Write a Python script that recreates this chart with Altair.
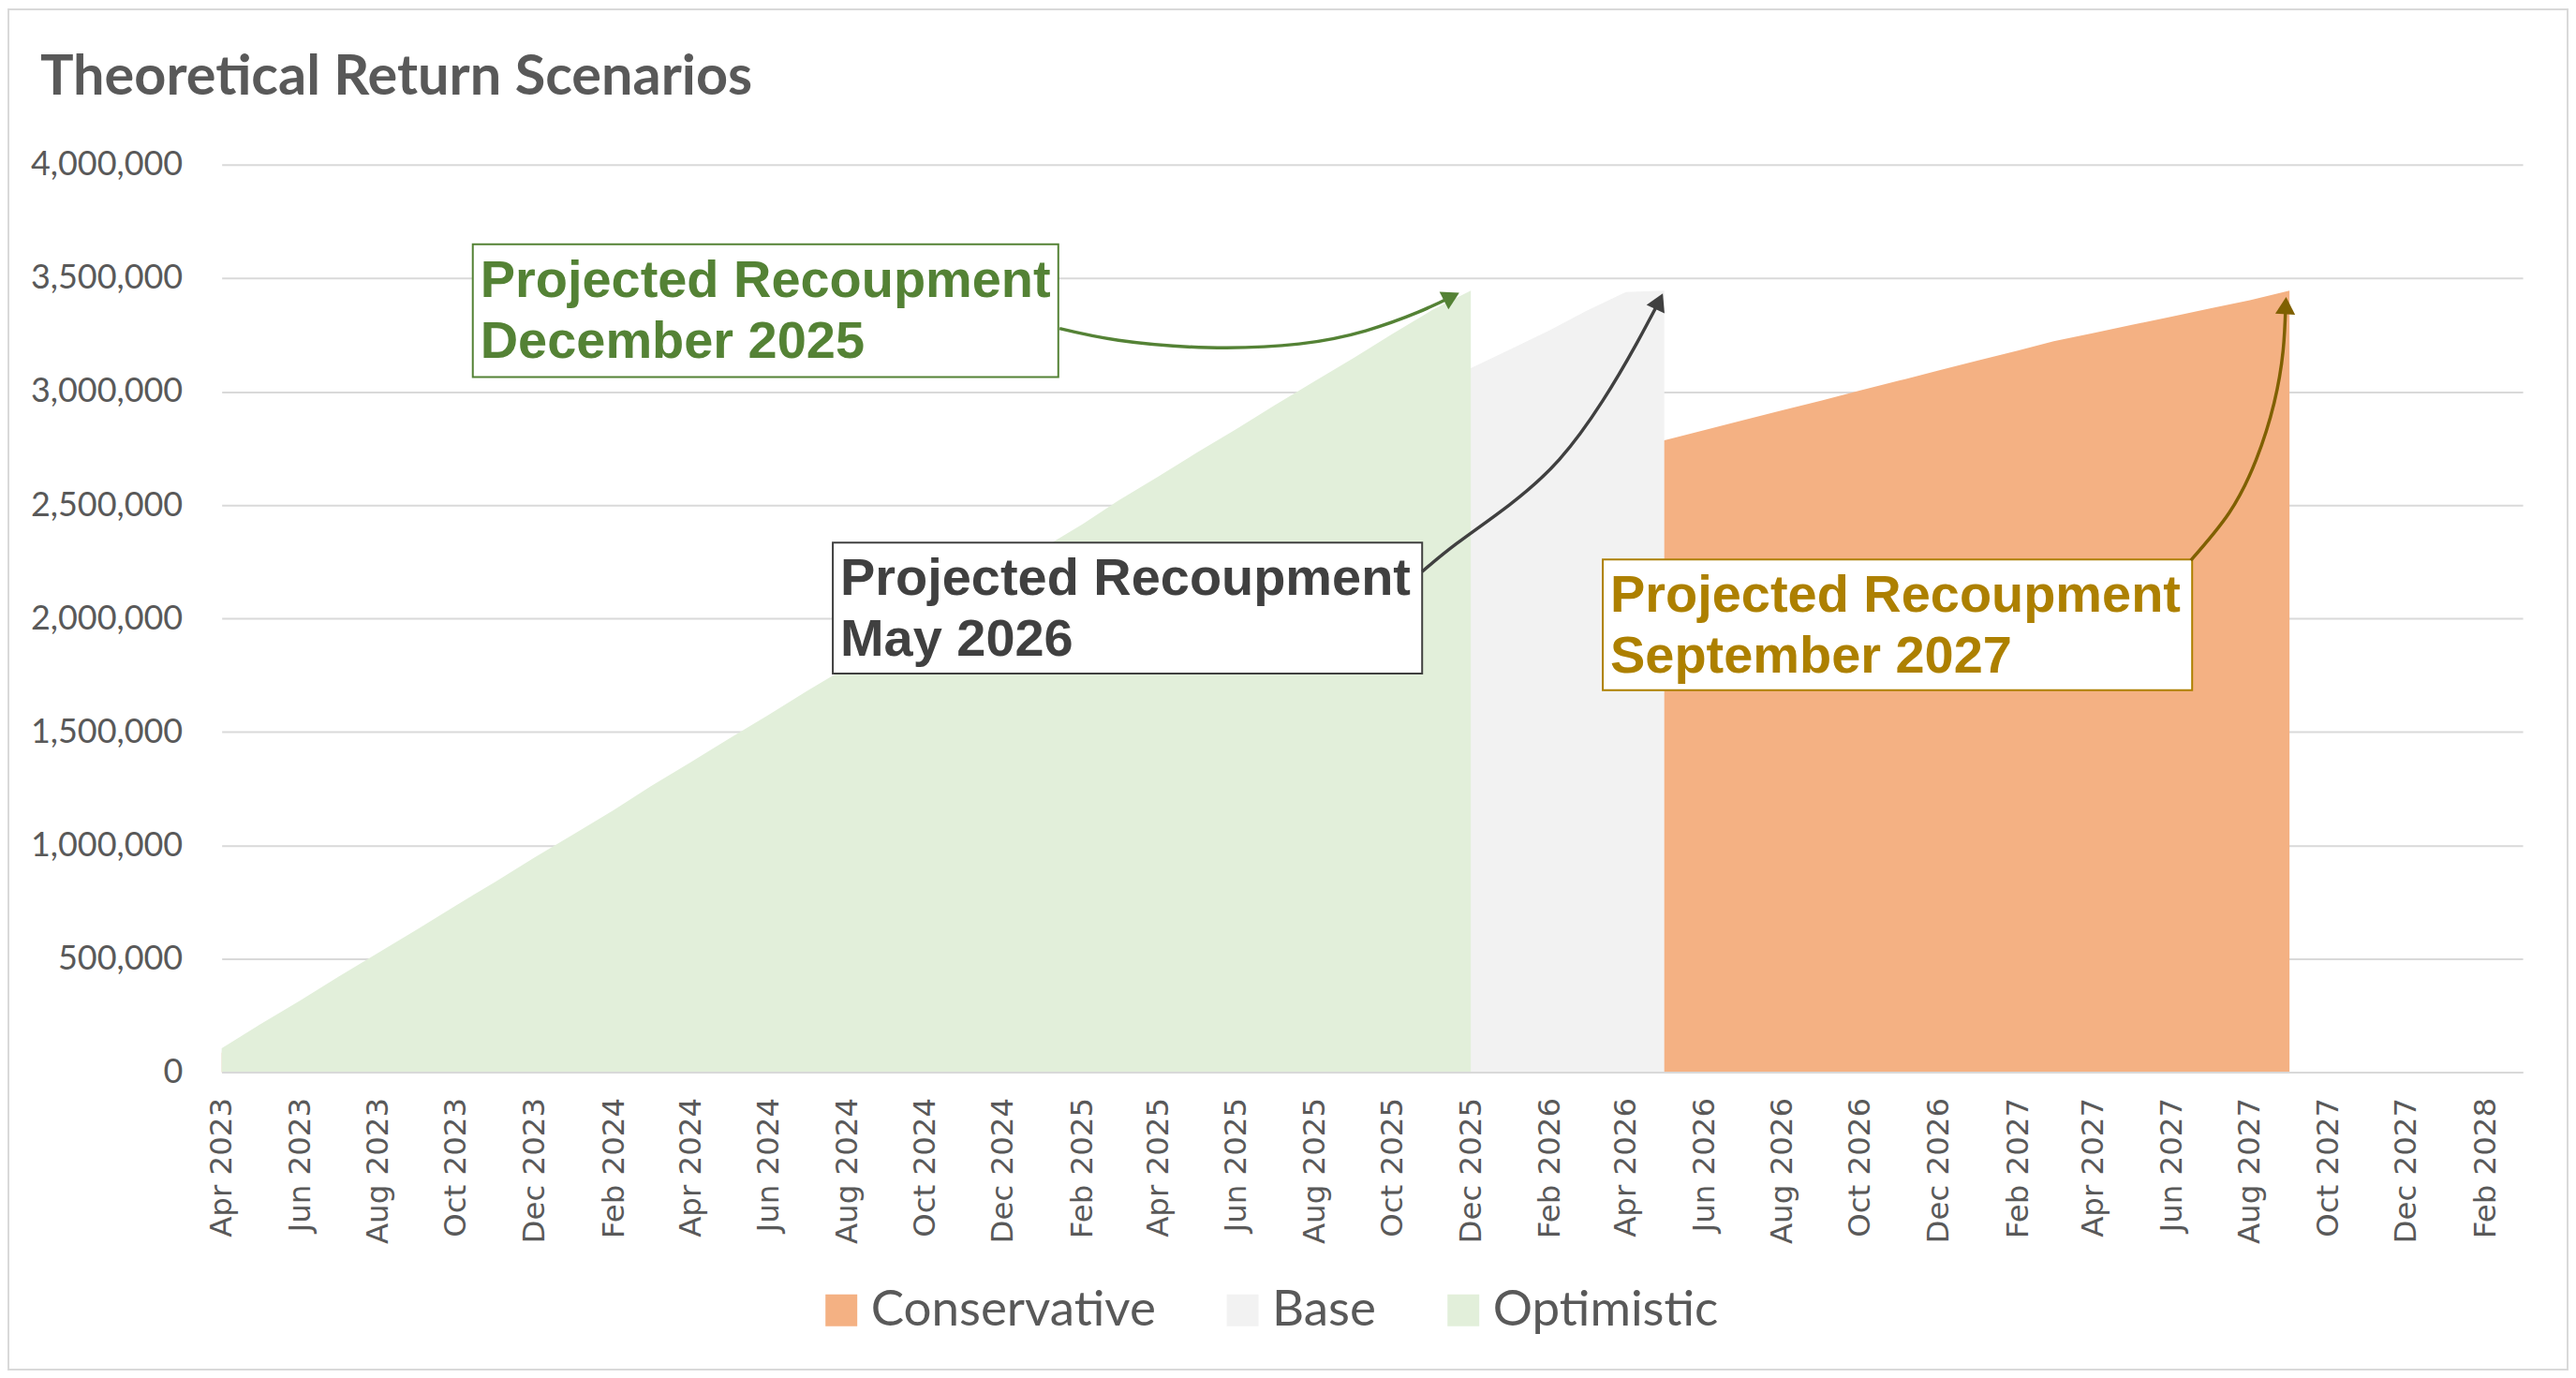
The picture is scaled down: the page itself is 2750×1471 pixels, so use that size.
import altair as alt
import pandas as pd

# ---------------- data ----------------
months = pd.date_range("2023-04-01", "2028-03-01", freq="MS").strftime("%Y-%m-%d").tolist()
series_names = ["Conservative", "Base", "Optimistic"]
series_colors = ["#F4B183", "#F2F2F2", "#E2EFDA"]

# monthly cumulative return, starting Apr 2023
conservative = [85000, 158000, 231000, 304000, 377000, 450000, 523000, 596000, 669000, 742000,
                815000, 888000, 961000, 1034000, 1107000, 1180000, 1253000, 1326000, 1399000, 1472000,
                1545000, 1618000, 1691000, 1764000, 1837000, 1910000, 1983000, 2056000, 2129000, 2202000,
                2275000, 2348000, 2421000, 2494000, 2567000, 2640000, 2713000, 2785000, 2829000, 2873000,
                2917000, 2961000, 3005000, 3049000, 3093000, 3137000, 3181000, 3222000, 3258000, 3294000,
                3330000, 3366000, 3402000, 3445000]
base = [95000, 189000, 283000, 377000, 471000, 565000, 659000, 753000, 847000, 941000,
        1035000, 1129000, 1223000, 1317000, 1411000, 1505000, 1599000, 1693000, 1787000, 1881000,
        1975000, 2069000, 2163000, 2257000, 2351000, 2445000, 2539000, 2633000, 2727000, 2821000,
        2915000, 3009000, 3103000, 3187000, 3271000, 3355000, 3439000, 3445000]
optimistic = [105000, 210000, 315000, 420000, 525000, 630000, 735000, 840000, 945000, 1050000,
              1155000, 1260000, 1365000, 1470000, 1575000, 1680000, 1785000, 1890000, 1995000, 2100000,
              2205000, 2310000, 2415000, 2520000, 2625000, 2730000, 2835000, 2940000, 3045000, 3150000,
              3255000, 3360000, 3445000]

x_tick_months = months[0:59:2]          # Apr 2023, Jun 2023, ... Feb 2028
y_ticks = [0, 500000, 1000000, 1500000, 2000000, 2500000, 3000000, 3500000, 4000000]

chart_title = "Theoretical Return Scenarios"

# annotation boxes
ann_text = ["Projected Recoupment\nDecember 2025", "Projected Recoupment\nMay 2026",
            "Projected Recoupment\nSeptember 2027"]
ann_color = ["#548235", "#404040", "#AD8000"]
ann_arrow_color = ["#548235", "#404040", "#7F6000"]
box_left = ["2023-10-14", "2024-07-21", "2026-03-14"]
box_right = ["2025-01-13", "2025-10-24", "2027-06-17"]
box_top = [3649000, 2334000, 2260000]
box_bottom = [3064000, 1757000, 1683000]

# arrow paths (date, value)
arrow_paths = [
    [("2025-01-14", 3278000), ("2025-03-01", 3226000), ("2025-05-10", 3194000), ("2025-07-20", 3210000),
     ("2025-09-10", 3268000), ("2025-10-21", 3350000), ("2025-11-16", 3418000)],
    [("2025-10-24", 2206000), ("2025-11-20", 2330000), ("2025-12-31", 2500000), ("2026-02-08", 2700000),
     ("2026-03-14", 2960000), ("2026-04-09", 3208000), ("2026-04-27", 3398000)],
    [("2027-06-16", 2256000), ("2027-07-16", 2466000), ("2027-08-06", 2700000), ("2027-08-20", 2950000),
     ("2027-08-27", 3180000), ("2027-08-29", 3379000)],
]
head_date = ["2025-11-16", "2026-04-27", "2027-08-29"]
head_value = [3418000, 3398000, 3379000]
head_angle = [63, 25, 3]

# ---------------- tables ----------------
rows = []
for name, vals in zip(series_names, [conservative, base, optimistic]):
    for i, v in enumerate(vals):
        rows.append({"date": months[i], "series": name, "value": v})
df = pd.DataFrame(rows)

boxes = pd.DataFrame({"left": box_left, "right": box_right, "top": box_top, "bottom": box_bottom,
                      "label": ann_text, "col": ann_color})
arows = []
for k, path in enumerate(arrow_paths):
    for j, (d, v) in enumerate(path):
        arows.append({"arrow": k, "seq": j, "date": d, "value": v, "col": ann_arrow_color[k]})
arrows = pd.DataFrame(arows)
heads = pd.DataFrame({"date": head_date, "value": head_value, "rot": head_angle, "col": ann_arrow_color})


def dt(s):
    y, m, d = s.split("-")
    return alt.DateTime(year=int(y), month=int(m), date=int(d), utc=True)


x_scale = alt.Scale(type="utc", domain=[dt(months[0]), dt(months[-1])], nice=False)
y_scale = alt.Scale(domain=[0, 4000000], nice=False, zero=True)

x_axis = alt.Axis(values=[dt(s) for s in x_tick_months],
                  labelExpr="utcFormat(datum.value, '%b %Y')",
                  labelAngle=-90, labelFont="DejaVu Sans", labelFontSize=32.5, labelColor="#595959",
                  labelPadding=27, ticks=False, domain=True, domainColor="#D9D9D9", domainWidth=2,
                  grid=False, zindex=1, labelOverlap=False, labelFlush=False)
y_axis = alt.Axis(values=y_ticks, format=",d", labelFont="Lato", labelFontSize=36, labelColor="#595959",
                  labelPadding=42, ticks=False, domain=False, grid=True, gridColor="#D9D9D9", gridWidth=2)


def X(field):
    return alt.X(f"{field}:T", scale=x_scale, axis=x_axis, title=None)


def Y(field):
    return alt.Y(f"{field}:Q", scale=y_scale, axis=y_axis, title=None)


color = alt.Color("series:N", scale=alt.Scale(domain=series_names, range=series_colors),
                  legend=alt.Legend(orient="none", legendX=636, legendY=1198, direction="horizontal",
                                    title=None, labelFont="Lato", labelFontSize=53, labelColor="#595959",
                                    symbolType="square", symbolSize=1156, symbolStrokeWidth=0,
                                    symbolOpacity=1, labelOffset=5, columnPadding=66, padding=0,
                                    labelLimit=1000))

one = pd.DataFrame({"t": [chart_title]})

border = alt.Chart(one).mark_rect(
    fillOpacity=0, stroke="#D9D9D9", strokeWidth=2
).encode(x=alt.value(-228), x2=alt.value(2508), y=alt.value(-166), y2=alt.value(1288))

title_layer = alt.Chart(one).mark_text(
    align="left", baseline="alphabetic", font="Lato", fontSize=59.5, fontWeight="bold", color="#595959"
).encode(x=alt.value(-194), y=alt.value(-75), text="t:N")

areas = []
for name in series_names:
    areas.append(
        alt.Chart(df).transform_filter(alt.datum.series == name)
        .mark_area(opacity=1, interpolate="linear")
        .encode(x=X("date"), y=Y("value"), color=color)
    )

box_layer = alt.Chart(boxes).mark_rect(fill="white", strokeWidth=2).encode(
    x=X("left"), x2="right:T", y=Y("top"), y2="bottom:Q",
    stroke=alt.Stroke("col:N", scale=None)
)
text_layer = alt.Chart(boxes).mark_text(
    align="left", baseline="alphabetic", lineBreak="\n", lineHeight=65,
    font="Liberation Sans", fontWeight="bold", fontSize=56, dx=8, dy=56
).encode(x=X("left"), y=Y("top"), text="label:N", color=alt.Color("col:N", scale=None))

line_layer = alt.Chart(arrows).mark_line(interpolate="natural", strokeWidth=3.5).encode(
    x=X("date"), y=Y("value"), detail="arrow:N", order="seq:Q",
    color=alt.Color("col:N", scale=None)
)
head_layer = alt.Chart(heads).mark_point(shape="triangle-up", filled=True, size=450, opacity=1).encode(
    x=X("date"), y=Y("value"), angle=alt.Angle("rot:Q", scale=None),
    color=alt.Color("col:N", scale=None)
)

chart = alt.layer(border, title_layer, *areas, box_layer, text_layer, line_layer, head_layer).properties(
    width=2460, height=970,
    autosize=alt.AutoSizeParams(type="none"),
    padding={"left": 229, "top": 167, "right": 49, "bottom": 319},
).configure_view(stroke=None).configure_axisX(
    labelFont="DejaVu Sans", labelFontSize=32.5, labelColor="#595959"
).configure_axisY(
    labelFont="Lato", labelFontSize=36, labelColor="#595959"
)

chart.save("out.html", embed_options={"renderer": "svg", "actions": False})
